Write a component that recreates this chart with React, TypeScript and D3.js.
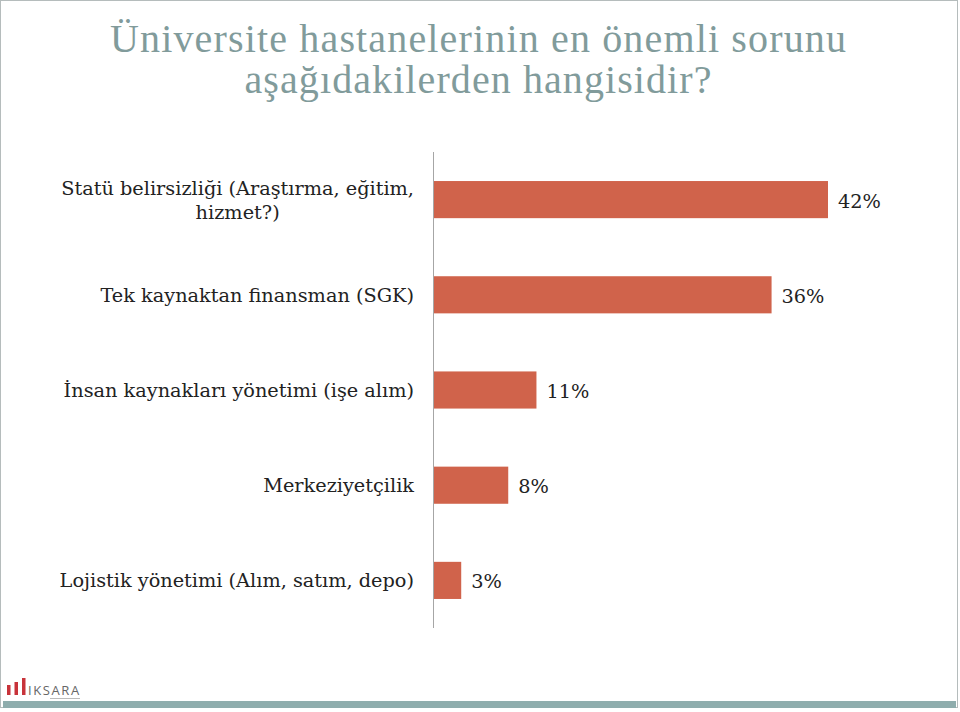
import React, { useEffect, useRef } from 'react';
import * as d3 from 'd3';

const titleLines = ['Üniversite hastanelerinin en önemli sorunu', 'aşağıdakilerden hangisidir?'];
const titleWidths = [736, 467];
const categories = [
  ['Statü belirsizliği (Araştırma, eğitim,', 'hizmet?)'],
  ['Tek kaynaktan finansman (SGK)'],
  ['İnsan kaynakları yönetimi (işe alım)'],
  ['Merkeziyetçilik'],
  ['Lojistik yönetimi (Alım, satım, depo)'],
];
const values = [42, 36, 11, 8, 3];
const logoBars = [10, 13, 17];

const W = 960;
const H = 712;
const BAR = '#d0634b';
const TEAL = '#819b9b';
const LABEL_FONT = '"DejaVu Serif", serif';
const LABEL_SIZE = 19.3;

export default function App() {
  const ref = useRef<SVGSVGElement>(null);

  useEffect(() => {
    const svg = d3.select(ref.current);
    svg.selectAll('*').remove();

    // slide frame
    svg.append('rect').attr('x', 0.5).attr('y', 0.5).attr('width', W - 3).attr('height', H - 5)
      .attr('fill', '#fff').attr('stroke', '#b5bcbc');
    svg.append('rect').attr('x', 3).attr('y', 701).attr('width', W - 7).attr('height', 7).attr('fill', '#8fadad');

    // title
    svg.append('g').selectAll('text').data(titleLines).join('text')
      .attr('x', 478).attr('y', (d, i) => 52 + i * 41)
      .attr('text-anchor', 'middle')
      .attr('textLength', (d, i) => titleWidths[i]).attr('lengthAdjust', 'spacing')
      .attr('font-family', '"Liberation Serif", serif').attr('font-size', 40)
      .attr('fill', TEAL).text(d => d);

    const x = d3.scaleLinear().domain([0, 42]).range([433, 828]);
    const y = d3.scaleBand<number>().domain(d3.range(values.length)).range([152, 628]).paddingInner(0.61).paddingOuter(0.305);

    const g = svg.append('g');
    g.selectAll('rect.bar').data(values).join('rect').attr('class', 'bar')
      .attr('x', x(0)).attr('y', (d, i) => y(i)!).attr('width', d => x(d) - x(0)).attr('height', y.bandwidth())
      .attr('fill', BAR);

    g.append('line').attr('x1', 433.5).attr('x2', 433.5).attr('y1', 152).attr('y2', 628)
      .attr('stroke', '#a6a6a6').attr('stroke-width', 1);

    g.selectAll('text.val').data(values).join('text').attr('class', 'val')
      .attr('x', d => x(d) + 10).attr('y', (d, i) => y(i)! + y.bandwidth() / 2 + 8)
      .attr('font-family', LABEL_FONT).attr('font-size', LABEL_SIZE).attr('fill', '#222')
      .text(d => `${d}%`);

    // category labels, wrapped lines centred under first line
    categories.forEach((lines, i) => {
      const cy = y(i)! + y.bandwidth() / 2;
      const lh = 24;
      const top = cy - ((lines.length - 1) * lh) / 2 + 7;
      const first = g.append('text').attr('x', 414).attr('y', top).attr('text-anchor', 'end')
        .attr('font-family', LABEL_FONT).attr('font-size', LABEL_SIZE).attr('fill', '#222').text(lines[0]);
      const w = (first.node() as SVGTextElement).getComputedTextLength();
      lines.slice(1).forEach((l, j) => {
        g.append('text').attr('x', 414 - w / 2).attr('y', top + (j + 1) * lh).attr('text-anchor', 'middle')
          .attr('font-family', LABEL_FONT).attr('font-size', LABEL_SIZE).attr('fill', '#222').text(l);
      });
    });

    // logo
    const logo = svg.append('g').attr('transform', 'translate(7,695)');
    logo.selectAll('rect').data(logoBars).join('rect')
      .attr('x', (d, i) => i * 7.5).attr('y', d => -d).attr('width', 3.5).attr('height', d => d).attr('fill', '#c8333a');
    logo.append('text').attr('x', 21).attr('y', 0).attr('font-family', '"Open Sans", sans-serif')
      .attr('font-size', 13).attr('letter-spacing', 1.6).attr('fill', '#666').text('IKSARA');
    logo.append('rect').attr('x', 43).attr('y', 3).attr('width', 30).attr('height', 1).attr('fill', '#bbb');
  }, []);

  return (
    <div style={{ position: 'absolute', left: 0, top: 0 }}>
      <svg ref={ref} width={W} height={H} style={{ display: 'block' }} />
    </div>
  );
}
